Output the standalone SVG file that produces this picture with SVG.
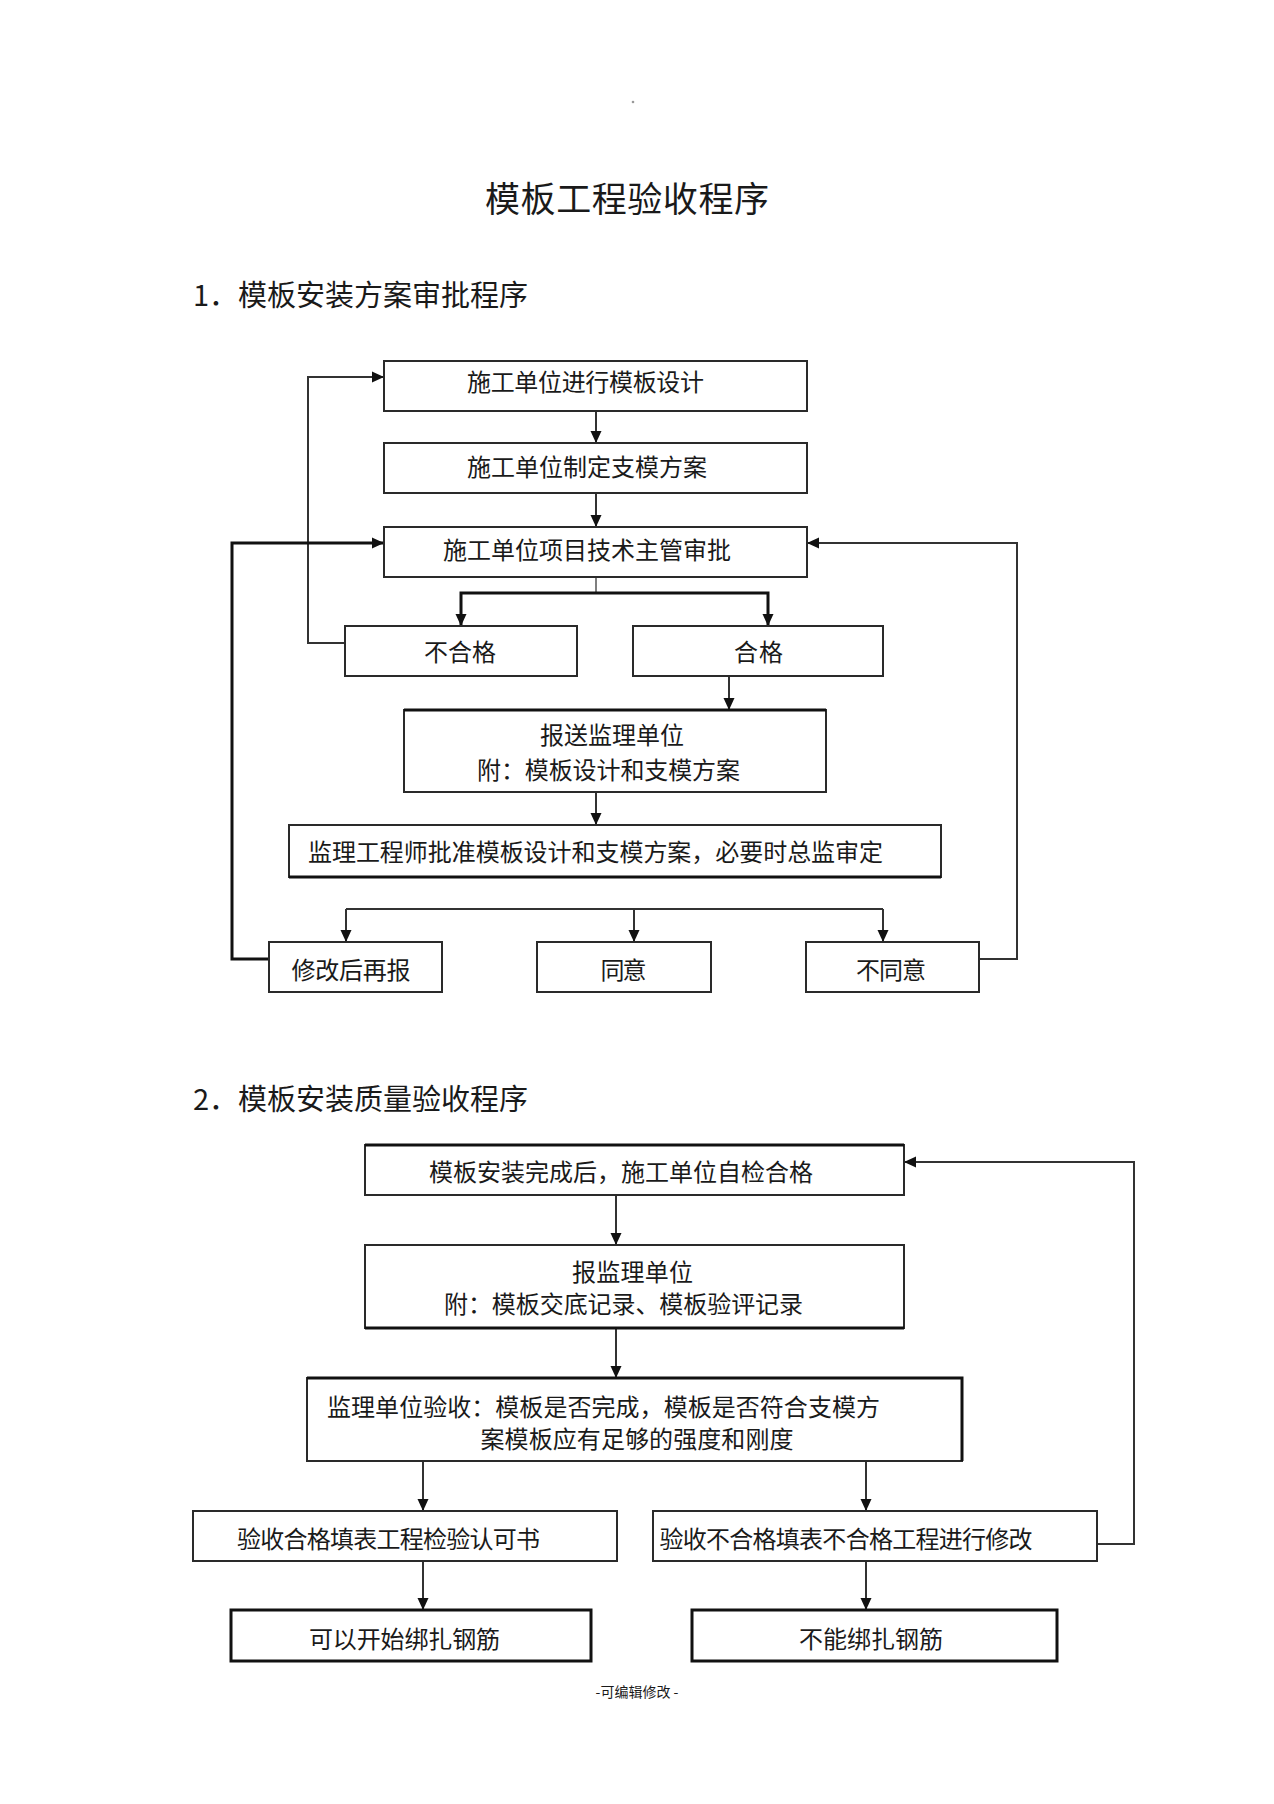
<svg xmlns="http://www.w3.org/2000/svg" width="1274" height="1804" viewBox="0 0 1274 1804">
<style>
text{font-family:"Noto Sans CJK SC","Noto Sans CJK TC",sans-serif;fill:#1a1a1a;}
.t{font-size:24px;}
.box{fill:#fff;stroke:#2a2a2a;stroke-width:2;}
.heavy{fill:#fff;stroke:#111;stroke-width:3;}
.edge{fill:none;stroke:#111;stroke-width:3;}
.ln{fill:none;stroke:#333;stroke-width:2;}
.thk{fill:none;stroke:#111;stroke-width:3;}
.thin{fill:none;stroke:#555;stroke-width:1.5;}
</style>
<defs>
<marker id="ah" markerUnits="userSpaceOnUse" markerWidth="12" markerHeight="12" refX="12" refY="6" orient="auto">
<path d="M0,0.5 L12,6 L0,11.5 z" fill="#111"/>
</marker>
</defs>
<rect width="1274" height="1804" fill="#fff"/>
<circle cx="633" cy="102" r="1.3" fill="#999"/>
<text x="485" y="212" font-size="35" textLength="284" lengthAdjust="spacing">模板工程验收程序</text>
<text x="193" y="306" font-size="29">1．模板安装方案审批程序</text>
<text x="193" y="1110" font-size="29">2．模板安装质量验收程序</text>

<g id="connectors">
<path class="ln" d="M596,411 V443" marker-end="url(#ah)"/>
<path class="ln" d="M596,493 V527" marker-end="url(#ah)"/>
<path class="ln" d="M345,643 H308 V377 H384" marker-end="url(#ah)"/>
<path class="thk" d="M269,959 H232 V543 H384" marker-end="url(#ah)"/>
<path class="thin" d="M596,577 V593"/>
<path class="thk" d="M596,593 H461 V626" marker-end="url(#ah)"/>
<path class="thk" d="M596,593 H768 V626" marker-end="url(#ah)"/>
<path class="ln" d="M979,959 H1017 V543 H807" marker-end="url(#ah)"/>
<path class="ln" d="M729,676 V710" marker-end="url(#ah)"/>
<path class="ln" d="M596,792 V825" marker-end="url(#ah)"/>
<path class="ln" d="M346,909 H883"/>
<path class="ln" d="M346,909 V942" marker-end="url(#ah)"/>
<path class="ln" d="M634,909 V942" marker-end="url(#ah)"/>
<path class="ln" d="M883,909 V942" marker-end="url(#ah)"/>
<path class="ln" d="M616,1195 V1245" marker-end="url(#ah)"/>
<path class="ln" d="M616,1328 V1378" marker-end="url(#ah)"/>
<path class="ln" d="M423,1461 V1511" marker-end="url(#ah)"/>
<path class="ln" d="M866,1461 V1511" marker-end="url(#ah)"/>
<path class="ln" d="M423,1561 V1610" marker-end="url(#ah)"/>
<path class="ln" d="M866,1561 V1610" marker-end="url(#ah)"/>
<path class="ln" d="M1097,1544 H1134 V1162 H904" marker-end="url(#ah)"/>
</g>

<g id="n1"><rect class="box" x="384" y="361" width="423" height="50"/><text class="t" x="467" y="391.4" textLength="237" lengthAdjust="spacing">施工单位进行模板设计</text></g>
<g id="n2"><rect class="box" x="384" y="443" width="423" height="50"/><text class="t" x="467" y="475.6" textLength="240" lengthAdjust="spacing">施工单位制定支模方案</text></g>
<g id="n3"><rect class="box" x="384" y="527" width="423" height="50"/><text class="t" x="443" y="559.2" textLength="288" lengthAdjust="spacing">施工单位项目技术主管审批</text></g>
<g id="n4"><rect class="box" x="345" y="626" width="232" height="50"/><text class="t" x="424" y="660.6" textLength="72" lengthAdjust="spacing">不合格</text></g>
<g id="n5"><rect class="box" x="633" y="626" width="250" height="50"/><text class="t" x="734" y="661.4" textLength="49" lengthAdjust="spacing">合格</text></g>
<g id="n6"><rect class="box" x="404" y="710" width="422" height="82"/><path class="edge" d="M404,710 H826"/><text class="t" x="540" y="743.9" textLength="144" lengthAdjust="spacing">报送监理单位</text><text class="t" x="477" y="778.9" textLength="263" lengthAdjust="spacing">附：模板设计和支模方案</text></g>
<g id="n7"><rect class="box" x="289" y="825" width="652" height="52"/><path class="edge" d="M289,877 H941"/><text class="t" x="308" y="860.6" textLength="575" lengthAdjust="spacing">监理工程师批准模板设计和支模方案，必要时总监审定</text></g>
<g id="n8"><rect class="box" x="269" y="942" width="173" height="50"/><text class="t" x="291.5" y="978.9" textLength="119" lengthAdjust="spacing">修改后再报</text></g>
<g id="n9"><rect class="box" x="537" y="942" width="174" height="50"/><text class="t" x="600.5" y="978.9" textLength="46" lengthAdjust="spacing">同意</text></g>
<g id="n10"><rect class="box" x="806" y="942" width="173" height="50"/><text class="t" x="856" y="978.9" textLength="70" lengthAdjust="spacing">不同意</text></g>

<g id="m1"><rect class="box" x="365" y="1145" width="539" height="50"/><path class="edge" d="M365,1145 H904"/><text class="t" x="429" y="1180.5" textLength="384" lengthAdjust="spacing">模板安装完成后，施工单位自检合格</text></g>
<g id="m2"><rect class="box" x="365" y="1245" width="539" height="83"/><path class="edge" d="M365,1328 H904"/><text class="t" x="572" y="1280.5" textLength="121" lengthAdjust="spacing">报监理单位</text><text class="t" x="444" y="1313.2" textLength="359" lengthAdjust="spacing">附：模板交底记录、模板验评记录</text></g>
<g id="m3"><rect class="box" x="307" y="1378" width="655" height="83"/><path class="edge" d="M307,1378 H962 V1461"/><text class="t" x="327" y="1416" textLength="553" lengthAdjust="spacing">监理单位验收：模板是否完成，模板是否符合支模方</text><text class="t" x="480.5" y="1448" textLength="313" lengthAdjust="spacing">案模板应有足够的强度和刚度</text></g>
<g id="m4"><rect class="box" x="193" y="1511" width="424" height="50"/><text class="t" x="237" y="1547.7" textLength="303" lengthAdjust="spacing">验收合格填表工程检验认可书</text></g>
<g id="m5"><rect class="box" x="653" y="1511" width="444" height="50"/><text class="t" x="659.5" y="1547.7" textLength="373" lengthAdjust="spacing">验收不合格填表不合格工程进行修改</text></g>
<g id="m6"><rect class="heavy" x="231" y="1610" width="360" height="51"/><text class="t" x="309" y="1647.7" textLength="191" lengthAdjust="spacing">可以开始绑扎钢筋</text></g>
<g id="m7"><rect class="heavy" x="692" y="1610" width="365" height="51"/><text class="t" x="799" y="1647.7" textLength="144" lengthAdjust="spacing">不能绑扎钢筋</text></g>

<text x="637" y="1697" font-size="14" text-anchor="middle" fill="#333">-可编辑修改 -</text>
</svg>
